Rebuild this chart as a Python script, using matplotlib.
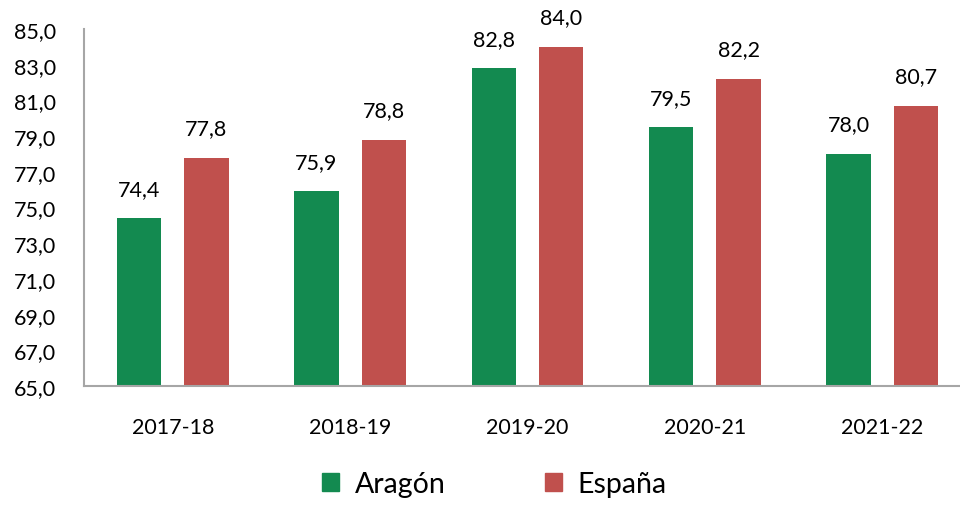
import numpy as np
import matplotlib.pyplot as plt
from matplotlib.patches import Patch

plt.rcParams['font.family'] = ['Lato', 'DejaVu Sans']

cursos = ["2017-18", "2018-19", "2019-20", "2020-21", "2021-22"]
aragon = [74.4, 75.9, 82.8, 79.5, 78.0]
espana = [77.8, 78.8, 84.0, 82.2, 80.7]

verde = "#138A50"
rojo = "#C0504D"

fig = plt.figure(figsize=(9.6, 5.06), dpi=100)
ax = fig.add_axes([84 / 960, 1 - 387 / 506, 887 / 960, 357 / 506])

x = np.arange(len(cursos))
w = 0.25
off = 0.19
b1 = ax.bar(x - off, aragon, w, color=verde)
b2 = ax.bar(x + off, espana, w, color=rojo)

def fmt(v):
    return f"{v:.1f}".replace(".", ",")

for bars, vals in ((b1, aragon), (b2, espana)):
    for b, v in zip(bars, vals):
        ax.annotate(fmt(v), (b.get_x() + b.get_width() / 2, v),
                    xytext=(0, 14), textcoords="offset points",
                    ha="center", va="bottom", fontsize=15.5, color="black")

ax.set_ylim(65, 85)
ax.set_xlim(-0.5, len(cursos) - 0.5)
ax.set_yticks(np.arange(65, 86, 2))
ax.set_yticklabels([fmt(v) for v in np.arange(65, 86, 2)], fontsize=15.5)
ax.set_xticks(x)
ax.set_xticklabels(cursos, fontsize=15.5)
ax.tick_params(length=0)
ax.tick_params(axis="y", pad=20)
ax.tick_params(axis="x", pad=22)
for s in ("top", "right"):
    ax.spines[s].set_visible(False)
for s in ("left", "bottom"):
    ax.spines[s].set_color("#A6A6A6")
    ax.spines[s].set_linewidth(1.5)

handles = [Patch(color=verde, label="Aragón"), Patch(color=rojo, label="España")]
fig.legend(handles=handles, loc="lower center", bbox_to_anchor=(0.515, -0.035),
           ncol=2, frameon=False, fontsize=20.5, handlelength=0.6,
           handleheight=0.6, columnspacing=3.5, handletextpad=0.55)

fig.savefig("out.png", dpi=100)
